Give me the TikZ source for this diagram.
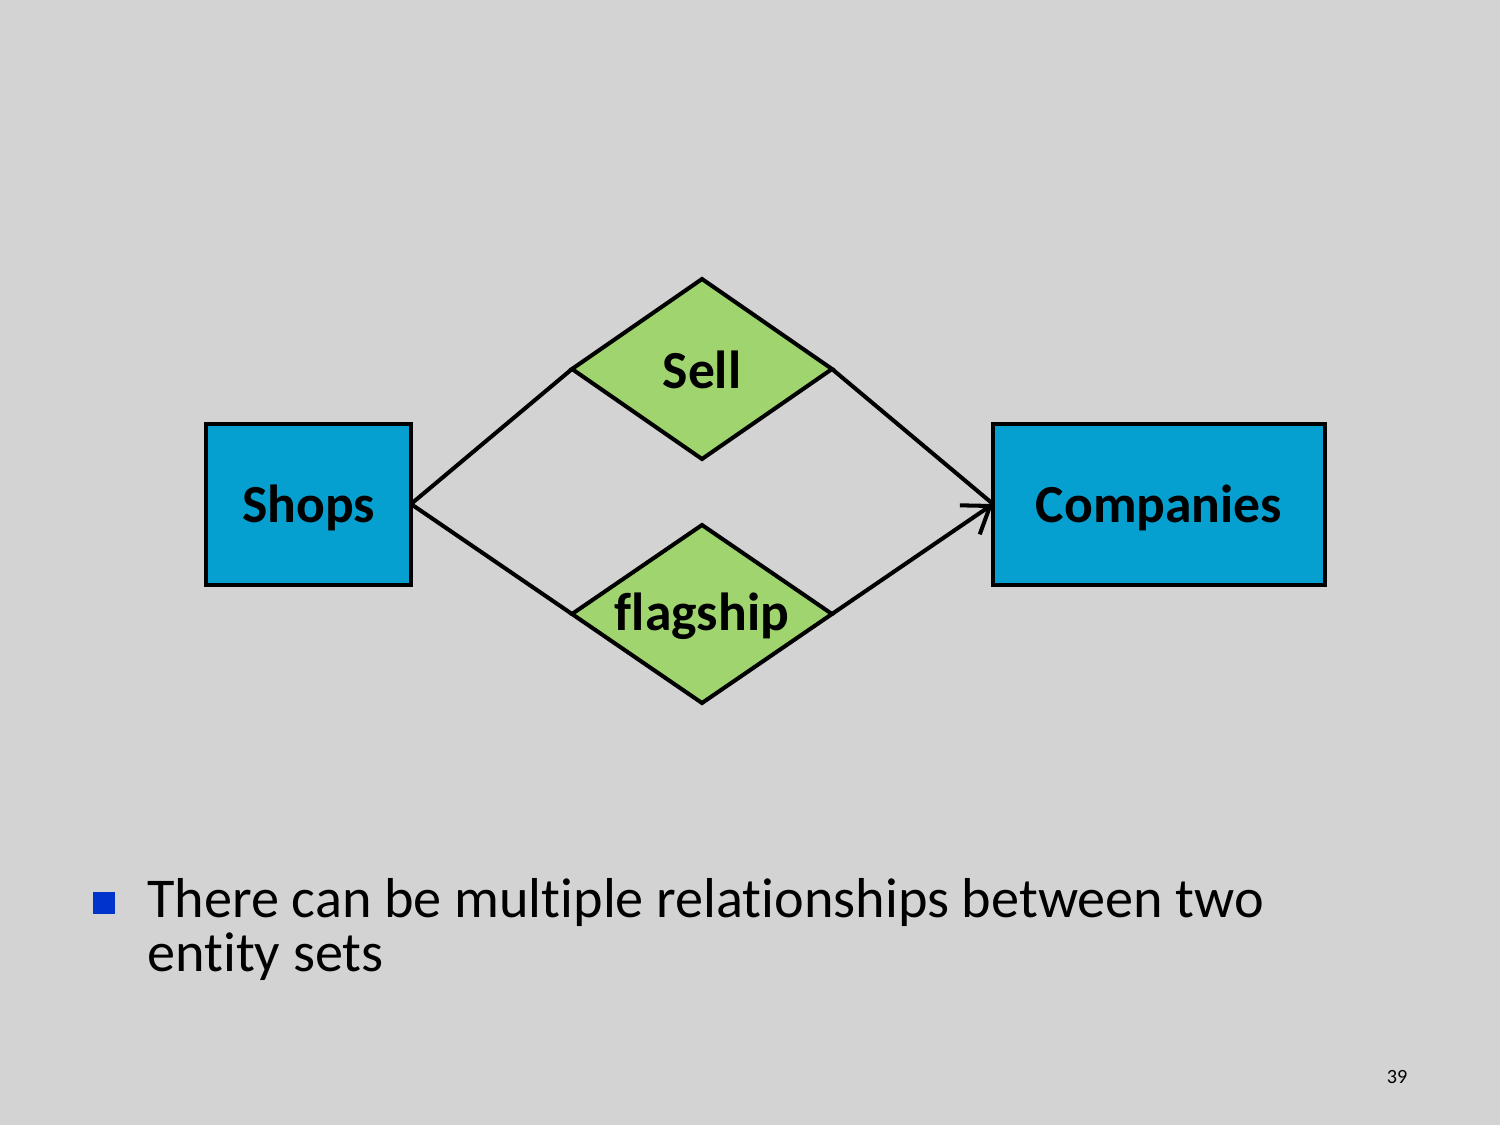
\documentclass[tikz,border=0pt]{standalone}
\usepackage{fontspec}
\setmainfont{Carlito}[Ligatures={NoCommon}]
\usetikzlibrary{shapes.geometric,arrows.meta}
\definecolor{bg}{HTML}{D3D3D3}
\definecolor{entblue}{HTML}{06A0D0}
\definecolor{relgreen}{HTML}{9FD46E}
\definecolor{bullblue}{HTML}{0033CC}
\tikzset{
  entity/.style={draw=black,line width=2.3pt,fill=entblue},
  rel/.style={draw=black,line width=2.3pt,fill=relgreen,line join=miter},
  conn/.style={line width=2.3pt,black},
  lbl/.style={font=\fontsize{30.5}{36}\selectfont\bfseries}
}
\begin{document}
\begin{tikzpicture}[x=0.02cm,y=-0.02cm]
\fill[bg] (0,0) rectangle (1500,1125);
\useasboundingbox (0,0) rectangle (1500,1125);
% entities
\draw[entity] (206,424) rectangle (411,585);
\node[lbl] (shopsT) at (308.5,508) {Shops};
\coordinate (shops) at (411,504);
\draw[entity] (993,424) rectangle (1325,585);
\node[lbl] (compT) at (1159,508) {Companies};
\coordinate (comp) at (993,504);
% relationships
\draw[rel] (702,279) coordinate (sellT) -- (832,369) coordinate (sellR) -- (702,459) coordinate (sellB) -- (572,369) coordinate (sellL) -- cycle;
\node[lbl] (sell) at (702,370) {Sell};
\draw[rel] (702,525) coordinate (flT) -- (832,614) coordinate (flR) -- (702,703) coordinate (flB) -- (572,614) coordinate (flL) -- cycle;
\node[lbl] (flag) at (702,616) {flagship};
% connectors
\draw[conn] (shops) -- (sellL);
\draw[conn] (sellR) -- (comp);
\draw[conn] (shops) -- (flL);
\draw[conn,-{Straight Barb[length=14pt,width=20pt,line width=2.3pt]}] (flR) -- (comp);
% bullet text
\fill[bullblue] (93,892) rectangle (115,914);
\node[anchor=north west,align=left,inner sep=0pt,font=\fontsize{32}{31}\selectfont] (txt) at (147,878) {There can be multiple relationships between two\\entity sets};
\node[font=\fontsize{11.5}{13}\selectfont] (num) at (1397,1077) {39};
\end{tikzpicture}
\end{document}
